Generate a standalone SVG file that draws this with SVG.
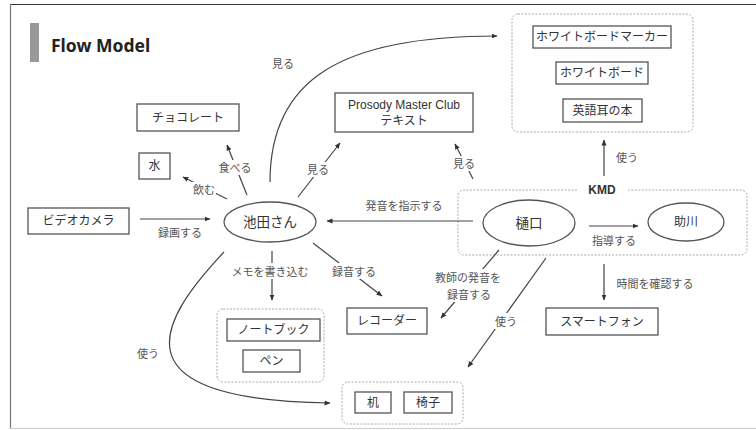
<svg xmlns="http://www.w3.org/2000/svg" width="756" height="430" viewBox="0 0 756 430">
<defs>
<marker id="ah" markerUnits="userSpaceOnUse" markerWidth="6" markerHeight="6" refX="5.5" refY="3" orient="auto">
<path d="M0,0.5 L6,3 L0,5.5 z" fill="#333"/>
</marker>
<style>
.box{fill:#fff;stroke:#555;stroke-width:1.3}
.grp{fill:none;stroke:#aaa;stroke-width:1;stroke-dasharray:2 1.5}
.ell{fill:#fff;stroke:#555;stroke-width:1.3}
.t{font-family:"Liberation Sans","Noto Sans CJK JP",sans-serif;font-size:12px;fill:#333;text-anchor:middle;dominant-baseline:central}
.lt{font-family:"Noto Sans CJK JP",sans-serif;font-size:11px;fill:#555;text-anchor:middle;dominant-baseline:central}
.big{font-size:13.5px}
.c{fill:none;stroke:#444;stroke-width:1.2;marker-end:url(#ah)}
.bg{fill:#fff}
</style>
</defs>
<rect width="756" height="430" fill="#fff"/>
<g id="frame">
<line x1="10" y1="4.5" x2="756" y2="4.5" stroke="#333" stroke-width="1.2"/>
<line x1="10.5" y1="4" x2="10.5" y2="429" stroke="#777" stroke-width="1.2"/>
<line x1="10" y1="428.5" x2="756" y2="428.5" stroke="#ccc" stroke-width="1"/>
</g>
<g id="title">
<rect x="30" y="23" width="9" height="39" fill="#999"/>
<text x="51" y="52" font-family="Noto Sans, sans-serif" font-weight="bold" font-size="17.5" fill="#222">Flow Model</text>
</g>
<g id="groups">
<rect class="grp" x="512" y="14" width="181" height="118" rx="6"/>
<rect class="grp" x="217" y="309" width="107" height="73" rx="6"/>
<rect class="grp" x="342" y="382" width="121" height="42" rx="6"/>
</g>
<g id="kmd">
<path class="grp" d="M577,190 H464 A6,6 0 0 0 458,196 V249 A6,6 0 0 0 464,255 H741 A6,6 0 0 0 747,249 V196 A6,6 0 0 0 741,190 H628"/>
<text class="t" x="602" y="190" font-weight="bold" font-size="13.5">KMD</text>
</g>
<g id="connectors">
<path class="c" d="M270,182 C270,80 340,36 497,36"/>
<path class="c" d="M224,252 C160,320 110,400 330,403"/>
<line class="c" x1="247" y1="195" x2="227" y2="145"/>
<line class="c" x1="227" y1="199" x2="183" y2="177"/>
<line class="c" x1="298" y1="197" x2="340" y2="143"/>
<line class="c" x1="473" y1="179" x2="455" y2="144"/>
<line class="c" x1="604" y1="176" x2="604" y2="140"/>
<line class="c" x1="140" y1="219" x2="210" y2="219"/>
<line class="c" x1="473" y1="221" x2="327" y2="221"/>
<line class="c" x1="589" y1="226" x2="638" y2="226"/>
<line class="c" x1="272" y1="251" x2="272" y2="300"/>
<line class="c" x1="313" y1="243" x2="382" y2="296"/>
<line class="c" x1="499" y1="250" x2="441" y2="318"/>
<line class="c" x1="546" y1="258" x2="468" y2="367"/>
<line class="c" x1="604" y1="264" x2="604" y2="300"/>
<rect class="bg" x="216" y="160" width="38" height="15"/>
<rect class="bg" x="191" y="182" width="25" height="15"/>
<rect class="bg" x="306" y="162" width="25" height="15"/>
<rect class="bg" x="452" y="156" width="24" height="15"/>
<rect class="bg" x="231" y="263" width="79" height="16"/>
<rect class="bg" x="331" y="263" width="46" height="16"/>
<rect class="bg" x="434" y="269" width="68" height="33"/>
<rect class="bg" x="494" y="313" width="25" height="16"/>
<text class="lt" x="283" y="63">見る</text>
<text class="lt" x="235" y="167">食べる</text>
<text class="lt" x="204" y="189">飲む</text>
<text class="lt" x="318" y="169">見る</text>
<text class="lt" x="464" y="163">見る</text>
<text class="lt" x="627" y="157">使う</text>
<text class="lt" x="180" y="232">録画する</text>
<text class="lt" x="404" y="205">発音を指示する</text>
<text class="lt" x="614" y="240">指導する</text>
<text class="lt" x="270" y="271">メモを書き込む</text>
<text class="lt" x="354" y="271">録音する</text>
<text class="lt" x="468" y="277">教師の発音を</text>
<text class="lt" x="469" y="294">録音する</text>
<text class="lt" x="506" y="321">使う</text>
<text class="lt" x="655" y="283">時間を確認する</text>
<text class="lt" x="148" y="353">使う</text>
</g>
<g id="n-choco"><rect class="box" x="137" y="104" width="102" height="27"/><text class="t" x="188" y="117.5">チョコレート</text></g>
<g id="n-mizu"><rect class="box" x="139" y="153" width="31" height="26"/><text class="t" x="154.5" y="166">水</text></g>
<g id="n-camera"><rect class="box" x="28" y="208" width="101" height="26"/><text class="t" x="78.5" y="221">ビデオカメラ</text></g>
<g id="n-ikeda"><ellipse class="ell" cx="270" cy="222" rx="46" ry="20"/><text class="t big" x="270" y="222">池田さん</text></g>
<g id="n-higuchi"><ellipse class="ell" cx="529" cy="223" rx="46" ry="23"/><text class="t big" x="529" y="223">樋口</text></g>
<g id="n-sukegawa"><ellipse class="ell" cx="686" cy="222" rx="38" ry="19"/><text class="t" x="686" y="222">助川</text></g>
<g id="n-prosody"><rect class="box" x="335" y="93" width="138" height="39"/><text class="t" x="404" y="105">Prosody Master Club</text><text class="t" x="404" y="121">テキスト</text></g>
<g id="n-marker"><rect class="box" x="533" y="26" width="138" height="22"/><text class="t" x="602" y="37">ホワイトボードマーカー</text></g>
<g id="n-board"><rect class="box" x="556" y="62" width="92" height="22"/><text class="t" x="602" y="73">ホワイトボード</text></g>
<g id="n-book"><rect class="box" x="563" y="99" width="79" height="23"/><text class="t" x="602.5" y="110.5">英語耳の本</text></g>
<g id="n-notebook"><rect class="box" x="227" y="319" width="93" height="22"/><text class="t" x="273.5" y="330">ノートブック</text></g>
<g id="n-pen"><rect class="box" x="243" y="350" width="57" height="22"/><text class="t" x="271.5" y="361">ペン</text></g>
<g id="n-recorder"><rect class="box" x="347" y="308" width="80" height="26"/><text class="t" x="387" y="321">レコーダー</text></g>
<g id="n-phone"><rect class="box" x="546" y="308" width="112" height="27"/><text class="t" x="602" y="321.5">スマートフォン</text></g>
<g id="n-desk"><rect class="box" x="355" y="392" width="36" height="21"/><text class="t" x="373" y="402.5">机</text></g>
<g id="n-chair"><rect class="box" x="404" y="392" width="48" height="21"/><text class="t" x="428" y="402.5">椅子</text></g>
</svg>
